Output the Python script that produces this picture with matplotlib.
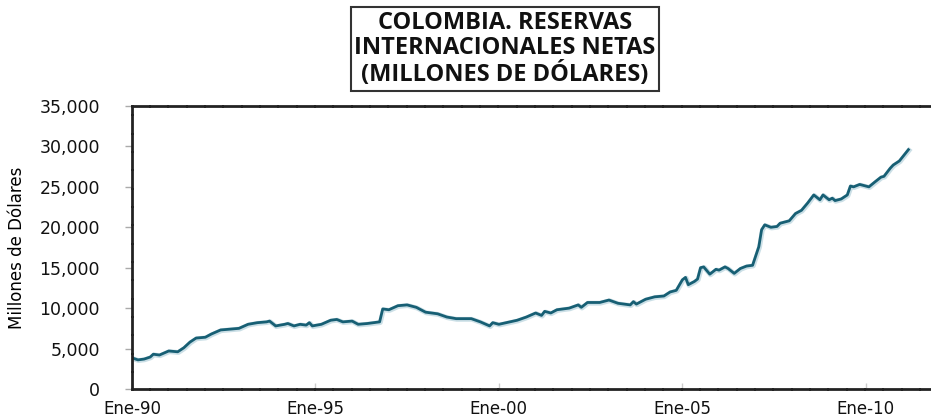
import matplotlib
matplotlib.use("Agg")
import matplotlib.pyplot as plt
import matplotlib.patheffects as pe
import pandas as pd

# monthly readings (millones de dolares)
fechas = [
    "1990-01", "1990-03", "1990-05", "1990-07", "1990-08", "1990-10",
    "1991-01", "1991-04", "1991-06", "1991-08", "1991-10",
    "1992-01", "1992-03", "1992-06", "1992-09", "1992-12",
    "1993-03", "1993-06", "1993-09", "1993-10", "1993-12",
    "1994-03", "1994-04", "1994-06", "1994-08", "1994-10", "1994-11", "1994-12",
    "1995-03", "1995-06", "1995-08", "1995-10",
    "1996-01", "1996-03", "1996-06", "1996-10", "1996-11",
    "1997-01", "1997-04", "1997-07", "1997-10",
    "1998-01", "1998-05", "1998-08", "1998-11",
    "1999-04", "1999-07", "1999-10", "1999-11",
    "2000-01", "2000-04", "2000-07", "2000-10",
    "2001-01", "2001-03", "2001-04", "2001-06", "2001-08", "2001-12",
    "2002-03", "2002-04", "2002-06", "2002-10",
    "2003-01", "2003-04", "2003-06", "2003-08", "2003-09", "2003-10",
    "2004-01", "2004-04", "2004-07", "2004-09", "2004-11",
    "2005-01", "2005-02", "2005-03", "2005-05", "2005-06", "2005-07",
    "2005-08", "2005-10", "2005-12",
    "2006-01", "2006-03", "2006-04", "2006-06", "2006-08", "2006-10", "2006-12",
    "2007-02", "2007-03", "2007-04", "2007-06", "2007-08", "2007-09", "2007-12",
    "2008-02", "2008-04", "2008-06", "2008-08", "2008-10", "2008-11",
    "2009-01", "2009-02", "2009-03", "2009-05", "2009-07", "2009-08", "2009-09", "2009-11",
    "2010-02", "2010-04", "2010-06", "2010-07", "2010-09", "2010-10", "2010-12",
    "2011-03",
]
reservas = [
    3850, 3600, 3700, 3950, 4300, 4200,
    4700, 4600, 5100, 5800, 6300,
    6400, 6800, 7300, 7400, 7500,
    8000, 8200, 8300, 8400, 7800,
    8000, 8100, 7800, 8000, 7900, 8200, 7800,
    8000, 8500, 8600, 8300,
    8400, 8000, 8100, 8300, 9900,
    9800, 10300, 10400, 10100,
    9500, 9300, 8900, 8700,
    8700, 8300, 7800, 8200,
    8000, 8250, 8500, 8900,
    9400, 9100, 9600, 9400, 9800, 10000,
    10400, 10100, 10700, 10700,
    11000, 10600, 10500, 10400, 10800, 10500,
    11100, 11400, 11500, 12000, 12200,
    13500, 13800, 12900, 13300, 13600, 15000,
    15100, 14200, 14800,
    14700, 15100, 14900, 14300, 14900, 15200, 15300,
    17600, 19700, 20300, 20000, 20100, 20500, 20800,
    21700, 22100, 23000, 24000, 23400, 24000,
    23400, 23600, 23300, 23500, 24000, 25100, 25000, 25300,
    25000, 25600, 26200, 26300, 27300, 27700, 28200,
    29600,
]
anios_ticks = [1990, 1995, 2000, 2005, 2010]
etiquetas_x = ["Ene-90", "Ene-95", "Ene-00", "Ene-05", "Ene-10"]
valores_y = [0, 5000, 10000, 15000, 20000, 25000, 30000, 35000]

x = pd.to_datetime(fechas)

fig = plt.figure(figsize=(9.31, 4.18), dpi=100)
ax = fig.add_axes([0.1418, 0.0694, 0.857, 0.677])

ax.plot(x, reservas, color="#175f74", lw=2.0, solid_joinstyle="round",
        path_effects=[pe.SimpleLineShadow(offset=(0.5, -0.5), shadow_color="#b5d2dc", alpha=0.7, linewidth=3.5),
                      pe.Normal()])

ax.set_ylim(0, 35000)
ax.set_xlim(pd.Timestamp("1990-01-01"), pd.Timestamp("2011-10-01"))
ax.set_yticks(valores_y)
ax.set_yticklabels([f"{v:,}" for v in valores_y])
ax.set_xticks([pd.Timestamp(f"{a}-01-01") for a in anios_ticks])
ax.set_xticklabels(etiquetas_x)

ax.tick_params(axis="y", length=5, width=1, color="#aaaaaa", pad=18, labelsize=12.5, labelcolor="#111111")
ax.tick_params(axis="x", length=4, width=1, color="#cccccc", direction="in", pad=8, labelsize=12,
               labelcolor="#111111")
for s in ax.spines.values():
    s.set_linewidth(2)
    s.set_color("#222222")
    s.set_linestyle((0, (6, 0.6)))
ax.spines["right"].set_visible(False)

ax.set_ylabel("Millones de Dólares", family=["Liberation Sans Narrow", "DejaVu Sans"], fontsize=12,
              labelpad=10)

fig.text(0.5425, 0.883, "COLOMBIA. RESERVAS\nINTERNACIONALES NETAS\n(MILLONES DE DÓLARES)",
         ha="center", va="center", fontsize=17, fontweight="bold", family=["Open Sans", "DejaVu Sans"],
         linespacing=1.1, color="#111111",
         bbox=dict(boxstyle="square,pad=0.15", fc="white", ec="#333333", lw=1.5))

fig.savefig("out.png", dpi=100)
